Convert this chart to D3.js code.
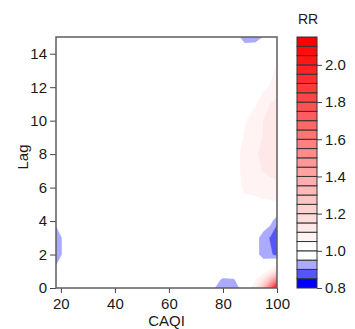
<!DOCTYPE html>
<html>
<head>
<meta charset="utf-8">
<script src="https://cdn.jsdelivr.net/npm/d3@7"></script>
<style>
  body { margin: 0; background: #fff; }
  text { font-family: 'Liberation Sans', Arial, sans-serif; fill: #1a1a1a; }
</style>
</head>
<body>
<script>
// grid of relative risk, rows = lag, columns = CAQI
const caqi = [18.2, 21, 30, 40, 50, 60, 70, 76, 80, 84, 88, 92, 95, 97.5, 100]
const lags = [0, 0.5, 1, 2, 3, 4, 5, 6, 7, 8, 9, 10, 11, 12, 13, 14, 15]
const rr = [
  [1, 1, 1, 1, 1, 1, 1, 0.96, 0.92, 0.92, 0.98, 1.1, 1.3, 1.65, 2.13],
  [1, 1, 1, 1, 1, 1, 1, 0.98, 0.94, 0.945, 0.99, 1.04, 1.13, 1.3, 1.55],
  [0.962, 1, 1, 1, 1, 1, 1, 1, 0.99, 0.99, 1, 1, 1.02, 1.07, 1.15],
  [0.925, 0.957, 1, 1, 1, 1, 1, 1, 1, 1, 1, 0.97, 0.925, 0.91, 0.88],
  [0.925, 0.957, 1, 1, 1, 1, 1, 1, 1, 1, 1, 0.97, 0.925, 0.895, 0.86],
  [0.96, 1, 1, 1, 1, 1, 1, 1, 1, 1, 1, 1, 0.99, 0.97, 0.91],
  [1, 1, 1, 1, 1, 1, 1, 1, 1, 1, 1.03, 1.035, 1.04, 1.04, 1.043],
  [1, 1, 1, 1, 1, 1, 1, 1, 1, 1.02, 1.06, 1.065, 1.07, 1.075, 1.08],
  [1, 1, 1, 1, 1, 1, 1, 1, 1, 1.02, 1.07, 1.09, 1.102, 1.115, 1.125],
  [1, 1, 1, 1, 1, 1, 1, 1, 1, 1.02, 1.07, 1.095, 1.11, 1.125, 1.13],
  [1, 1, 1, 1, 1, 1, 1, 1, 1, 1.01, 1.055, 1.085, 1.102, 1.12, 1.13],
  [1, 1, 1, 1, 1, 1, 1, 1, 1, 1, 1.045, 1.075, 1.1, 1.115, 1.125],
  [1, 1, 1, 1, 1, 1, 1, 1, 1, 1, 1.02, 1.045, 1.075, 1.1, 1.11],
  [1, 1, 1, 1, 1, 1, 1, 1, 1, 1, 1, 1.02, 1.04, 1.055, 1.08],
  [1, 1, 1, 1, 1, 1, 1, 1, 1, 1, 1, 1, 1.01, 1.03, 1.06],
  [1, 1, 1, 1, 1, 1, 1, 1, 1, 1, 1, 1, 1, 1.01, 1.035],
  [1, 1, 1, 1, 1, 1, 1, 1, 1, 0.99, 0.92, 0.925, 0.952, 1, 1]
]
const levels = [0.8, 0.85, 0.9, 0.95, 1.0, 1.05, 1.1, 1.15, 1.2, 1.25, 1.3, 1.35, 1.4,
  1.45, 1.5, 1.55, 1.6, 1.65, 1.7, 1.75, 1.8, 1.85, 1.9, 1.95, 2.0, 2.05, 2.1, 2.15]
const xTicks = [20, 40, 60, 80, 100]
const yTicks = [0, 2, 4, 6, 8, 10, 12, 14]
const legendTicks = [0.8, 1.0, 1.2, 1.4, 1.6, 1.8, 2.0]

const width = 355
const height = 329
const plot = { left: 56, right: 277, top: 37, bottom: 288 }
const leg = { left: 297, right: 317 }

// blue -> white below 1, white -> red above 1
let nBlue = levels.filter(l => l < 1).length
let nRed = levels.filter(l => l > 1).length
let colors = []
for (let i = 0; i < nBlue; i++) colors.push(d3.interpolateRgb('blue', 'white')(i / (nBlue - 1)))
for (let i = 0; i < nRed; i++) colors.push(d3.interpolateRgb('white', 'red')(i / (nRed - 1)))

const x = d3.scaleLinear().domain([18.2, 100]).range([plot.left, plot.right])
const y = d3.scaleLinear().domain([0, 15]).range([plot.bottom, plot.top])
const ly = d3.scaleLinear().domain([0.8, 2.15]).range([plot.bottom, plot.top])

const svg = d3.select('body').append('svg')
  .attr('width', width)
  .attr('height', height)

svg.append('clipPath').attr('id', 'clip')
  .append('rect')
  .attr('x', plot.left).attr('y', plot.top)
  .attr('width', plot.right - plot.left).attr('height', plot.bottom - plot.top)

// grid index -> data value (non uniform grid)
function fromIndex (arr, c) {
  let t = Math.max(0, Math.min(arr.length - 1, c - 0.5))
  let i = Math.min(arr.length - 2, Math.floor(t))
  return arr[i] + (arr[i + 1] - arr[i]) * (t - i)
}

const proj = d3.geoTransform({
  point (px, py) { this.stream.point(x(fromIndex(caqi, px)), y(fromIndex(lags, py))) }
})
const path = d3.geoPath(proj)

const contours = d3.contours()
  .size([caqi.length, lags.length])
  .thresholds(levels.slice(0, -1))(rr.flat())

svg.append('g')
  .attr('clip-path', 'url(#clip)')
  .selectAll('path')
  .data(contours)
  .join('path')
  .attr('d', path)
  .attr('fill', (d, i) => colors[levels.indexOf(d.value)] || colors[i])
  .attr('stroke', (d, i) => colors[levels.indexOf(d.value)] || colors[i])
  .attr('stroke-width', 0.3)

// axes
const xAxis = svg.append('g')
  .attr('transform', `translate(0,${plot.bottom})`)
  .call(d3.axisBottom(x).tickValues(xTicks).tickSize(5).tickPadding(5).tickSizeOuter(0))
const yAxis = svg.append('g')
  .attr('transform', `translate(${plot.left},0)`)
  .call(d3.axisLeft(y).tickValues(yTicks).tickSize(6).tickPadding(3).tickSizeOuter(0))

for (let ax of [xAxis, yAxis]) {
  ax.select('.domain').remove()
  ax.selectAll('line').attr('stroke', '#444')
  ax.selectAll('text').attr('font-size', 15).attr('fill', '#1a1a1a')
}

svg.append('rect')
  .attr('x', plot.left).attr('y', plot.top)
  .attr('width', plot.right - plot.left).attr('height', plot.bottom - plot.top)
  .attr('fill', 'none')
  .attr('stroke', '#5e5e5e')
  .attr('stroke-width', 1.5)

svg.append('text')
  .attr('x', (plot.left + plot.right) / 2)
  .attr('y', 326)
  .attr('text-anchor', 'middle')
  .attr('font-size', 15)
  .text('CAQI')

svg.append('text')
  .attr('transform', 'translate(28,157) rotate(-90)')
  .attr('text-anchor', 'middle')
  .attr('font-size', 15)
  .text('Lag')

// legend
const legend = svg.append('g')
legend.selectAll('rect')
  .data(d3.range(levels.length - 1))
  .join('rect')
  .attr('x', leg.left)
  .attr('y', i => ly(levels[i + 1]))
  .attr('width', leg.right - leg.left)
  .attr('height', i => ly(levels[i]) - ly(levels[i + 1]))
  .attr('fill', i => colors[i])
  .attr('stroke', '#333')
  .attr('stroke-width', 1)

const legAxis = svg.append('g')
  .attr('transform', `translate(${leg.right},0)`)
  .call(d3.axisRight(ly).tickValues(legendTicks).tickFormat(d3.format('.1f'))
    .tickSize(5).tickPadding(3).tickSizeOuter(0))
legAxis.select('.domain').remove()
legAxis.selectAll('line').attr('stroke', '#444')
legAxis.selectAll('text').attr('font-size', 15).attr('fill', '#1a1a1a')

svg.append('text')
  .attr('x', (leg.left + leg.right) / 2 + 1)
  .attr('y', 24)
  .attr('text-anchor', 'middle')
  .attr('font-size', 14)
  .text('RR')
</script>
</body>
</html>
